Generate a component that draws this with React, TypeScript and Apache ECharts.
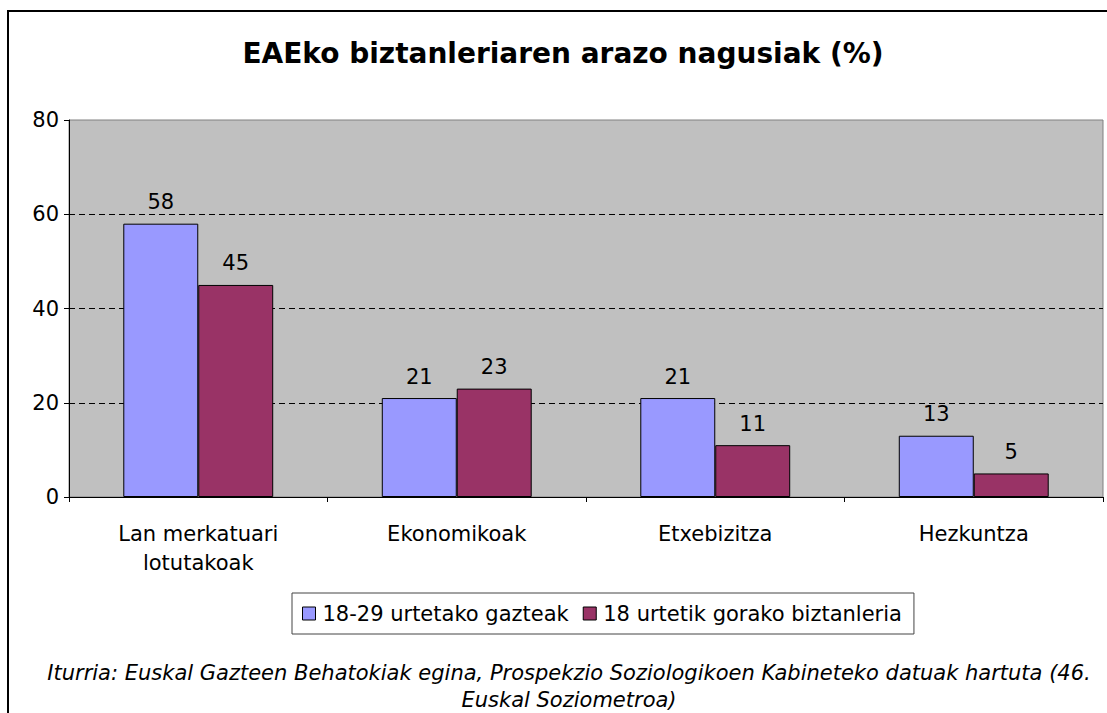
import React, { useEffect, useRef } from "react";
import * as echarts from "echarts";

const categories = ["Lan merkatuari\nlotutakoak", "Ekonomikoak", "Etxebizitza", "Hezkuntza"];
const seriesNames = ["18-29 urtetako gazteak", "18 urtetik gorako biztanleria"];
const youngValues = [58, 21, 21, 13];
const adultValues = [45, 23, 11, 5];
const yTicks = { min: 0, max: 80, interval: 20 };
const titleText = "EAEko biztanleriaren arazo nagusiak (%)";
const sourceLines = [
  "Iturria: Euskal Gazteen Behatokiak egina, Prospekzio Soziologikoen Kabineteko datuak hartuta (46.",
  "Euskal Soziometroa)",
];

const FONT = "'DejaVu Sans', Verdana, sans-serif";

export default function App() {
  const ref = useRef<HTMLDivElement>(null);
  useEffect(() => {
    if (!ref.current) return;
    const chart = echarts.init(ref.current, null, { renderer: "svg" });
    const labelStyle = {
      show: true,
      position: "top" as const,
      distance: 11,
      fontSize: 21,
      color: "#000",
      fontFamily: FONT,
    };
    chart.setOption({
      animation: false,
      backgroundColor: "#fff",
      textStyle: { fontFamily: FONT },
      grid: {
        left: 69,
        top: 120,
        right: 4,
        bottom: 216,
        show: true,
        backgroundColor: "#C0C0C0",
        borderColor: "#808080",
        borderWidth: 1,
      },
      legend: {
        data: seriesNames,
        left: 292,
        top: 593,
        padding: [10, 12, 10, 10],
        itemGap: 14,
        itemWidth: 13,
        itemHeight: 13,
        icon: "rect",
        backgroundColor: "#fff",
        borderColor: "#444",
        borderWidth: 1,
        textStyle: { fontSize: 21, color: "#000", fontFamily: FONT, padding: [0, 0, 0, 2] },
        itemStyle: { borderColor: "#000", borderWidth: 1 },
      },
      xAxis: {
        type: "category",
        data: categories,
        axisLine: { lineStyle: { color: "#000", width: 1 } },
        axisTick: { show: true, length: 5, alignWithLabel: false, lineStyle: { color: "#000" } },
        axisLabel: {
          fontSize: 21,
          color: "#000",
          margin: 22,
          lineHeight: 29,
          fontFamily: FONT,
        },
        splitLine: { show: false },
      },
      yAxis: {
        type: "value",
        min: yTicks.min,
        max: yTicks.max,
        interval: yTicks.interval,
        axisLine: { show: true, lineStyle: { color: "#000", width: 1 } },
        axisTick: { show: true, length: 5, lineStyle: { color: "#000" } },
        axisLabel: { fontSize: 21, color: "#000", margin: 10, fontFamily: FONT },
        splitLine: {
          show: true,
          showMinLine: false,
          showMaxLine: false,
          lineStyle: { color: "#000", type: [6, 4], width: 1 },
        },
      },
      series: [
        {
          name: seriesNames[0],
          type: "bar",
          data: youngValues,
          barGap: "0%",
          barCategoryGap: "42%",
          itemStyle: { color: "#9999FF", borderColor: "#000", borderWidth: 1 },
          label: labelStyle,
        },
        {
          name: seriesNames[1],
          type: "bar",
          data: adultValues,
          barGap: "0%",
          barCategoryGap: "42%",
          itemStyle: { color: "#993366", borderColor: "#000", borderWidth: 1 },
          label: labelStyle,
        },
      ],
      graphic: [
        {
          type: "rect",
          shape: { x: 8, y: 11, width: 1120, height: 720 },
          style: { fill: "none", stroke: "#000", lineWidth: 2 },
          silent: true,
          z: 100,
        },
        {
          type: "text",
          x: 563,
          y: 53,
          style: {
            text: titleText,
            font: `bold 28px ${FONT}`,
            fill: "#000",
            align: "center",
            verticalAlign: "middle",
          },
        },
        {
          type: "text",
          x: 569,
          y: 673,
          style: {
            text: sourceLines[0],
            font: `italic 21px ${FONT}`,
            fill: "#000",
            align: "center",
            verticalAlign: "middle",
          },
        },
        {
          type: "text",
          x: 569,
          y: 700,
          style: {
            text: sourceLines[1],
            font: `italic 21px ${FONT}`,
            fill: "#000",
            align: "center",
            verticalAlign: "middle",
          },
        },
      ],
    });
    return () => chart.dispose();
  }, []);
  return (
    <div
      ref={ref}
      style={{ position: "absolute", left: 0, top: 0, width: 1107, height: 713 }}
    />
  );
}
